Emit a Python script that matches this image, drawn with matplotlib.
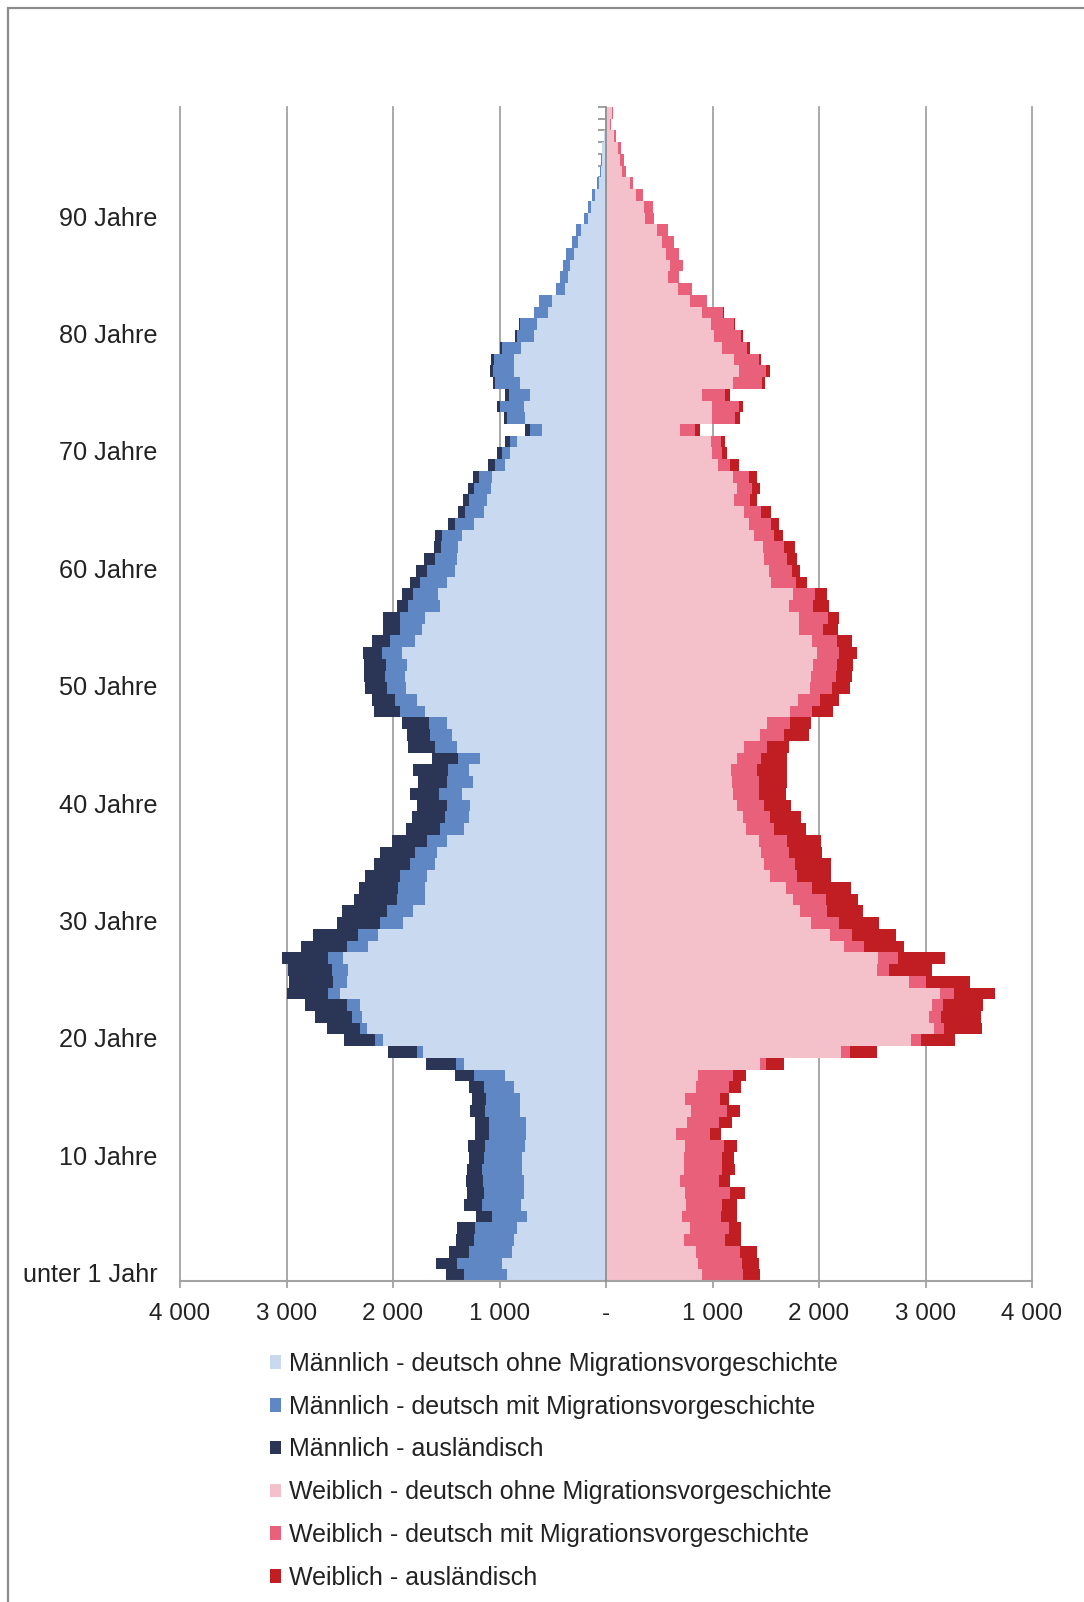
import numpy as np
import matplotlib
matplotlib.use("Agg")
import matplotlib.pyplot as plt
from matplotlib.patches import Patch, Rectangle
from matplotlib.transforms import blended_transform_factory

ages = np.arange(100)

male_ohne = [931, 978, 884, 862, 837, 743, 799, 768, 774, 790,
             790, 758, 749, 749, 805, 812, 868, 946, 1338, 1714,
             2096, 2246, 2293, 2309, 2497, 2434, 2419, 2466, 2231, 2137,
             1902, 1808, 1698, 1698, 1682, 1604, 1588, 1494, 1338, 1291,
             1275, 1353, 1250, 1291, 1181, 1400, 1447, 1494, 1698, 1776,
             1877, 1886, 1864, 1917, 1792, 1730, 1698, 1557, 1573, 1494,
             1416, 1400, 1385, 1353, 1237, 1150, 1118, 1081, 1072, 947,
             900, 837, 602, 758, 774, 711, 812, 868, 868, 796,
             680, 648, 540, 507, 382, 360, 335, 304, 266, 232,
             172, 140, 100, 65, 45, 35, 35, 15, 10, 5]
male_mit = [407, 423, 407, 376, 392, 329, 367, 382, 382, 376,
            351, 382, 354, 354, 329, 313, 282, 291, 69, 63,
            72, 63, 94, 125, 110, 125, 157, 141, 204, 188,
            219, 251, 266, 251, 251, 241, 204, 188, 219, 219,
            219, 219, 245, 188, 204, 204, 204, 172, 235, 204,
            182, 188, 200, 188, 235, 204, 235, 298, 235, 257,
            266, 204, 166, 188, 179, 172, 172, 163, 125, 94,
            78, 69, 110, 172, 219, 204, 229, 194, 188, 182,
            157, 163, 140, 126, 88, 70, 69, 69, 54, 48,
            38, 30, 30, 20, 10, 10, 0, 0, 0, 0]
male_ausl = [163, 194, 179, 169, 166, 147, 166, 157, 157, 141,
             150, 157, 125, 125, 141, 135, 132, 179, 285, 266,
             288, 313, 345, 392, 392, 414, 407, 439, 432, 423,
             407, 423, 401, 367, 329, 332, 329, 329, 320, 313,
             282, 273, 266, 329, 251, 251, 213, 251, 244, 220,
             204, 194, 204, 172, 172, 157, 157, 103, 110, 94,
             103, 103, 60, 63, 72, 72, 53, 53, 53, 63,
             47, 41, 47, 31, 31, 31, 22, 25, 25, 22,
             20, 10, 0, 0, 0, 0, 0, 0, 0, 0,
             0, 0, 0, 0, 0, 0, 0, 0, 0, 0]

female_ohne = [902, 862, 849, 730, 786, 714, 755, 746, 699, 730,
               736, 746, 661, 761, 799, 746, 849, 862, 1444, 2209,
               2867, 3080, 3033, 3064, 3133, 2845, 2547, 2553, 2234, 2102,
               1921, 1820, 1758, 1686, 1538, 1488, 1451, 1435, 1319, 1288,
               1231, 1194, 1184, 1175, 1231, 1294, 1444, 1513, 1726, 1801,
               1914, 1921, 1946, 1983, 1936, 1811, 1811, 1717, 1758, 1545,
               1529, 1488, 1476, 1388, 1341, 1300, 1206, 1231, 1194, 1050,
               996, 987, 699, 996, 996, 902, 1194, 1247, 1206, 1090,
               1012, 987, 902, 786, 674, 580, 598, 567, 526, 479,
               370, 360, 285, 222, 150, 128, 110, 72, 40, 55]
female_mit = [385, 417, 407, 392, 367, 367, 335, 423, 360, 360,
              354, 360, 313, 298, 338, 329, 304, 332, 63, 81,
              94, 94, 110, 103, 135, 157, 110, 188, 188, 210,
              266, 251, 304, 251, 257, 282, 266, 266, 257, 251,
              251, 241, 251, 244, 226, 219, 226, 219, 210, 204,
              210, 235, 219, 204, 229, 229, 273, 229, 200, 235,
              219, 213, 200, 188, 210, 157, 150, 141, 147, 119,
              94, 94, 132, 219, 251, 219, 273, 260, 229, 235,
              251, 213, 197, 163, 135, 103, 125, 116, 110, 100,
              85, 81, 63, 31, 41, 38, 31, 25, 10, 10]
female_ausl = [157, 157, 163, 147, 116, 150, 141, 132, 110, 125,
               116, 125, 107, 125, 125, 78, 110, 116, 163, 251,
               313, 360, 376, 376, 382, 417, 407, 439, 376, 407,
               376, 345, 304, 360, 320, 345, 313, 320, 298, 294,
               257, 251, 260, 276, 244, 204, 235, 194, 197, 182,
               166, 157, 157, 166, 147, 138, 103, 147, 119, 110,
               78, 88, 94, 88, 72, 94, 63, 72, 78, 78,
               47, 41, 50, 41, 41, 41, 22, 31, 22, 25,
               25, 10, 5, 0, 0, 0, 0, 0, 0, 0,
               0, 0, 0, 0, 0, 0, 0, 0, 0, 0]

age_label_pos = [0, 10, 20, 30, 40, 50, 60, 70, 80, 90]
age_labels = ["unter 1 Jahr", "10 Jahre", "20 Jahre", "30 Jahre", "40 Jahre",
              "50 Jahre", "60 Jahre", "70 Jahre", "80 Jahre", "90 Jahre"]
x_ticks = [-4000, -3000, -2000, -1000, 0, 1000, 2000, 3000, 4000]
x_ticklabels = ["4 000", "3 000", "2 000", "1 000", "-", "1 000", "2 000", "3 000", "4 000"]

series_labels = ["Männlich - deutsch ohne Migrationsvorgeschichte",
                 "Männlich - deutsch mit Migrationsvorgeschichte",
                 "Männlich - ausländisch",
                 "Weiblich - deutsch ohne Migrationsvorgeschichte",
                 "Weiblich - deutsch mit Migrationsvorgeschichte",
                 "Weiblich - ausländisch"]
colors = ["#c9d9ef", "#5f87c3", "#2b3556", "#f4c0c9", "#e8607a", "#c11e23"]

plt.rcParams['font.family'] = ['Liberation Sans', 'DejaVu Sans']

W, H = 1084, 1602
fig = plt.figure(figsize=(W / 100, H / 100), dpi=100)
ax = fig.add_axes([180 / W, 1 - 1281 / H, 852 / W, 1174 / H])

m1 = np.array(male_ohne); m2 = np.array(male_mit); m3 = np.array(male_ausl)
f1 = np.array(female_ohne); f2 = np.array(female_mit); f3 = np.array(female_ausl)

ax.barh(ages, -m1, height=1.0, color=colors[0], linewidth=0, zorder=2)
ax.barh(ages, -m2, left=-m1, height=1.0, color=colors[1], linewidth=0, zorder=2)
ax.barh(ages, -m3, left=-(m1 + m2), height=1.0, color=colors[2], linewidth=0, zorder=2)
ax.barh(ages, f1, height=1.0, color=colors[3], linewidth=0, zorder=2)
ax.barh(ages, f2, left=f1, height=1.0, color=colors[4], linewidth=0, zorder=2)
ax.barh(ages, f3, left=f1 + f2, height=1.0, color=colors[5], linewidth=0, zorder=2)

ax.set_xlim(-4000, 4000)
ax.set_ylim(-0.5, 99.5)

for xv in x_ticks:
    if xv != 0:
        ax.axvline(xv, color="#a3a3a3", lw=1.3, zorder=1, clip_on=False)

for s in ["top", "right"]:
    ax.spines[s].set_visible(False)
ax.spines["left"].set_position(("data", 0))
ax.spines["left"].set_color("#8f8f8f")
ax.spines["left"].set_linewidth(1.3)
ax.spines["left"].set_zorder(3)
ax.spines["bottom"].set_color("#a3a3a3")
ax.spines["bottom"].set_linewidth(1.5)

ax.set_yticks(np.arange(101) - 0.5)
ax.set_yticklabels([])
ax.tick_params(axis="y", direction="out", length=6, width=1.2, color="#8f8f8f")

ax.set_xticks(x_ticks)
ax.set_xticklabels(x_ticklabels, fontsize=17.5)
ax.tick_params(axis="x", direction="out", length=5, width=1.3, color="#a3a3a3",
               pad=11, labelcolor="#222222")

trans = blended_transform_factory(ax.transAxes, ax.transData)
for pos, lab in zip(age_label_pos, age_labels):
    ax.text(-0.026, pos, lab, transform=trans, ha="right", va="center",
            fontsize=18.2, color="#222222")

handles = [Patch(facecolor=c, edgecolor="none") for c in colors]
fig.legend(handles, series_labels, loc="upper left",
           bbox_to_anchor=(270 / W, 1 - 1352 / H), frameon=False,
           fontsize=18, handlelength=0.45, handleheight=0.45,
           handletextpad=0.3, labelspacing=0.75, borderaxespad=0,
           borderpad=0, labelcolor="#222222")

fig.patches.append(Rectangle((8 / W, -0.05), 1.2, 1.05 - 8 / H, transform=fig.transFigure,
                             fill=False, edgecolor="#8c8c8c", linewidth=1.6))

fig.savefig("out.png", dpi=100, facecolor="white")
